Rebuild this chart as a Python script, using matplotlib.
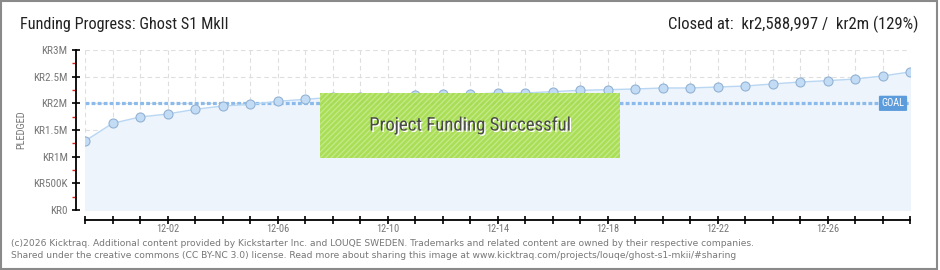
import matplotlib
matplotlib.use("Agg")
import matplotlib.pyplot as plt
from matplotlib.patches import Rectangle
import matplotlib.patheffects as pe
import numpy as np
import logging

# daily pledged totals (kr), 11-29 .. 12-29
days = ["11-29", "11-30", "12-01", "12-02", "12-03", "12-04", "12-05", "12-06",
        "12-07", "12-08", "12-09", "12-10", "12-11", "12-12", "12-13", "12-14",
        "12-15", "12-16", "12-17", "12-18", "12-19", "12-20", "12-21", "12-22",
        "12-23", "12-24", "12-25", "12-26", "12-27", "12-28", "12-29"]
pledged = [1294000, 1625000, 1744000, 1800000, 1888000, 1950000, 1980000, 2038000,
           2075000, 2113000, 2119000, 2119000, 2150000, 2169000, 2169000, 2194000,
           2194000, 2219000, 2244000, 2256000, 2269000, 2288000, 2288000, 2306000,
           2325000, 2363000, 2400000, 2425000, 2456000, 2513000, 2588997]
goal = 2000000
y_ticks = [0, 500000, 1000000, 1500000, 2000000, 2500000, 3000000]
y_labels = ["KR0", "KR500K", "KR1M", "KR1.5M", "KR2M", "KR2.5M", "KR3M"]
x_labels = {3: "12-02", 7: "12-06", 11: "12-10", 15: "12-14", 19: "12-18",
            23: "12-22", 27: "12-26"}

narrow = ["Roboto Condensed", "Roboto", "DejaVu Sans"]
logging.getLogger("matplotlib.font_manager").setLevel(logging.ERROR)

fig = plt.figure(figsize=(9.4, 2.7), dpi=100)
fig.patch.set_facecolor("white")
fig.patches.append(Rectangle((0.001, 0.004), 0.996, 0.992, transform=fig.transFigure,
                             fill=False, edgecolor="#8a8a8a", linewidth=1.5))

ax = fig.add_axes([85 / 940, 60 / 270, 825 / 940, 160 / 270])
x = np.arange(len(days))

ax.fill_between(x, pledged, 0, color="#edf4fc", zorder=1)
ax.plot(x, pledged, color="#b9d7f3", linewidth=1, zorder=3)
ax.plot(x, pledged, "o", markersize=6.5, markerfacecolor="#c3dcf6",
        markeredgecolor="#93b2d3", markeredgewidth=0.8, zorder=4)
ax.plot([x[0], x[-1]], [goal, goal], color="#8cbbeb", linewidth=2.3,
        linestyle=(0, (1.2, 0.7)), zorder=2)

ax.set_xlim(0, len(days) - 1)
ax.set_ylim(0, 3000000)

ax.set_xticks(x)
ax.set_xticklabels([x_labels.get(i, "") for i in x])
ax.set_yticks(y_ticks)
ax.set_yticklabels(y_labels)
ax.set_yticks(np.arange(250000, 3000000, 500000), minor=True)

ax.grid(True, color="#dedede", linestyle=(0, (4, 3)), linewidth=0.8, zorder=0)
ax.set_axisbelow(True)

for s in ["top", "right"]:
    ax.spines[s].set_visible(False)
ax.spines["left"].set_position(("outward", 6.5))
ax.spines["bottom"].set_position(("outward", 7.2))
ax.spines["left"].set_linewidth(1.3)
ax.spines["bottom"].set_linewidth(1.3)

ax.tick_params(axis="x", which="major", direction="inout", length=6, width=1.2,
               labelsize=7.5, labelcolor="#777777", pad=0)
ax.tick_params(axis="y", which="major", direction="inout", length=6, width=1.2,
               labelsize=8, labelcolor="#777777", pad=3)
ax.tick_params(axis="y", which="minor", direction="out", length=3, width=1,
               color="#e02020")
for lab in ax.get_xticklabels() + ax.get_yticklabels():
    lab.set_family(narrow)

ax.set_ylabel("PLEDGED", fontsize=7.5, color="#777777", family=narrow)
ax.yaxis.set_label_coords(-59 / 825, 0.5)

# goal tag
ax.text(x[-1] - 0.2, goal, "GOAL", fontsize=7.5, color="white", ha="right",
        va="center", family=narrow, zorder=6,
        bbox=dict(boxstyle="round,pad=0.25,rounding_size=0.1",
                  facecolor="#5d9cdc", edgecolor="none"))

# success banner
box = Rectangle((235 / 825, 52 / 160), 300 / 825, 65 / 160, transform=ax.transAxes,
                facecolor="#a7dd4e", edgecolor="#c4ea88", hatch="//////",
                linewidth=0, alpha=0.95, zorder=5)
ax.add_patch(box)
ax.text(385 / 825, 84.5 / 160, "Project Funding Successful", transform=ax.transAxes,
        fontsize=13.5, color="#4a4a4a", ha="center", va="center", family=narrow,
        zorder=6, path_effects=[pe.withSimplePatchShadow(offset=(1, -1),
                                                         shadow_rgbFace="white",
                                                         alpha=1)])

fig.text(20 / 940, 1 - 24 / 270, "Funding Progress: Ghost S1 MkII", fontsize=11.7,
         color="#222222", va="center", family=narrow)
fig.text(918 / 940, 1 - 24 / 270, "Closed at:  kr2,588,997 /  kr2m (129%)",
         fontsize=12, color="#222222", va="center", ha="right", family=narrow)

fig.text(11 / 940, 1 - 243 / 270,
         "(c)2026 Kicktraq. Additional content provided by Kickstarter Inc. and LOUQE SWEDEN. "
         "Trademarks and related content are owned by their respective companies.",
         fontsize=6.6, color="#777777", va="center")
fig.text(11 / 940, 1 - 255 / 270,
         "Shared under the creative commons (CC BY-NC 3.0) license. Read more about sharing "
         "this image at www.kicktraq.com/projects/louqe/ghost-s1-mkii/#sharing",
         fontsize=6.6, color="#777777", va="center")

fig.savefig("out.png", dpi=100)
